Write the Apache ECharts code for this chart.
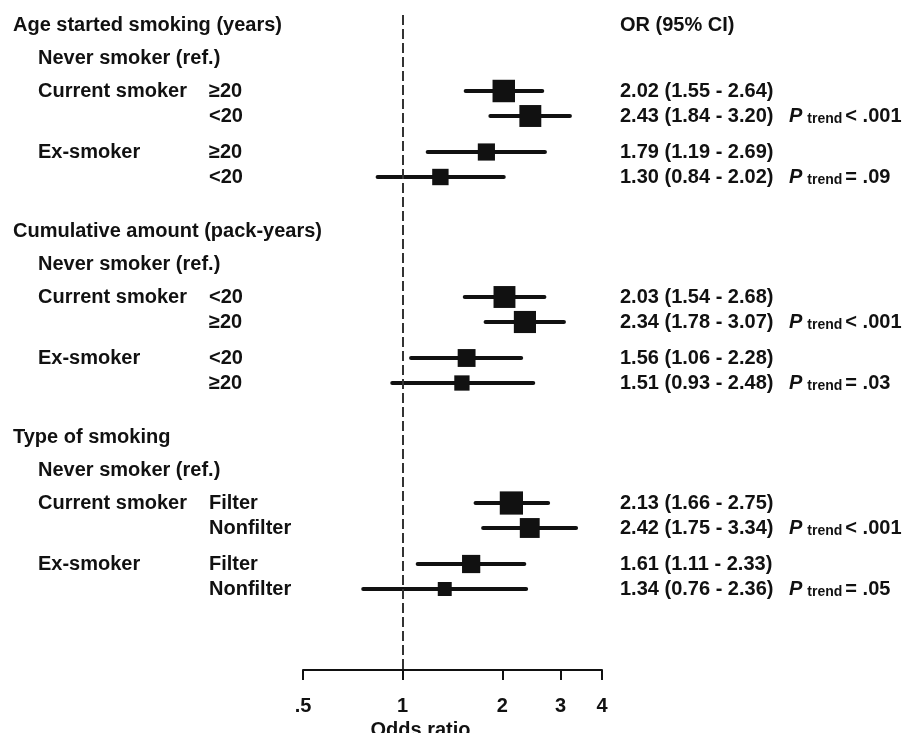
<!DOCTYPE html>
<html>
<head>
<meta charset="utf-8">
<script src="https://cdn.jsdelivr.net/npm/echarts@6/dist/echarts.min.js"></script>
<style>
html,body{margin:0;padding:0;background:#fff;}
#chart{width:907px;height:733px;}
</style>
</head>
<body>
<div id="chart"></div>
<script>
// ---- Data ----
const sectionTitles = ["Age started smoking (years)", "Cumulative amount (pack-years)", "Type of smoking"];
const refLabel = "Never smoker (ref.)";
const groupLabels = ["Current smoker", "Ex-smoker"];
const subLabels = [["≥20", "<20"], ["<20", "≥20"], ["Filter", "Nonfilter"]];
const orValues = [2.02, 2.43, 1.79, 1.30, 2.03, 2.34, 1.56, 1.51, 2.13, 2.42, 1.61, 1.34];
const ciLower  = [1.55, 1.84, 1.19, 0.84, 1.54, 1.78, 1.06, 0.93, 1.66, 1.75, 1.11, 0.76];
const ciUpper  = [2.64, 3.20, 2.69, 2.02, 2.68, 3.07, 2.28, 2.48, 2.75, 3.34, 2.33, 2.36];
const pTrendText = ["< .001", "= .09", "< .001", "= .03", "< .001", "= .05"];
const orHeader = "OR (95% CI)";
const tickValues = [0.5, 1, 2, 3, 4];
const tickLabels = [".5", "1", "2", "3", "4"];
const axisTitle = "Odds ratio";

// ---- Layout (row units) ----
const ROW_REF = 1.32, ROW_G0 = 2.64, ROW_STEP = 1.0, ROW_G1 = 5.08, SECTION_STEP = 8.24;
const COL_SECTION = 13, COL_GROUP = 38, COL_SUB = 209, COL_OR = 620, COL_P = 789;
const FONT = '"Liberation Sans", Arial, sans-serif';
const TXT = '#111';

const rowPos = [];          // row position for each estimate
const labels = [];          // text items
labels.push({pos: 0, x: COL_OR, text: orHeader});
sectionTitles.forEach((title, s) => {
  const base = s * SECTION_STEP;
  labels.push({pos: base, x: COL_SECTION, text: title});
  labels.push({pos: base + ROW_REF, x: COL_GROUP, text: refLabel});
  groupLabels.forEach((g, gi) => {
    const gStart = base + (gi === 0 ? ROW_G0 : ROW_G1);
    labels.push({pos: gStart, x: COL_GROUP, text: g});
    subLabels[s].forEach((sub, k) => {
      const idx = s * 4 + gi * 2 + k;
      const p = gStart + k * ROW_STEP;
      rowPos[idx] = p;
      labels.push({pos: p, x: COL_SUB, text: sub});
      const t = orValues[idx].toFixed(2) + ' (' + ciLower[idx].toFixed(2) + ' - ' + ciUpper[idx].toFixed(2) + ')';
      labels.push({pos: p, x: COL_OR, text: t});
      if (k === 1) {
        labels.push({pos: p, x: COL_P, rich: true, text: '{p|P}{t|trend}{v|' + pTrendText[s * 2 + gi] + '}'});
      }
    });
  });
});

// box size derived from CI width (precision)
function boxSize(i) {
  const w = Math.log(ciUpper[i] / ciLower[i]);
  return 15.1 / Math.pow(w, 0.63);
}

const boxData = orValues.map((v, i) => ({value: [v, rowPos[i]], symbolSize: boxSize(i)}));
const ciData = orValues.map((v, i) => [ciLower[i], ciUpper[i], rowPos[i]]);
const labelData = labels.map((l) => [1, l.pos]);

const chart = echarts.init(document.getElementById('chart'), null, {renderer: 'canvas'});
chart.setOption({
  backgroundColor: '#fff',
  animation: false,
  grid: {left: 303, right: 305, top: 15, bottom: 63, containLabel: false, outerBoundsMode: 'none'},
  xAxis: {
    type: 'log', logBase: 2, min: 0.5, max: 4,
    splitLine: {show: false},
    axisLine: {show: true, onZero: false, lineStyle: {color: TXT, width: 2}},
    axisTick: {show: true, length: 10, inside: false, lineStyle: {color: TXT, width: 2}, customValues: tickValues},
    axisLabel: {
      customValues: tickValues, margin: 26,
      color: TXT, fontSize: 20, fontWeight: 'bold', fontFamily: FONT,
      formatter: function (v) {
        let best = 0, d = Infinity;
        tickValues.forEach((t, i) => { const dd = Math.abs(t - v); if (dd < d) { d = dd; best = i; } });
        return tickLabels[best];
      }
    },
    name: axisTitle, nameLocation: 'middle', nameGap: 48,
    nameTextStyle: {color: TXT, fontSize: 20, fontWeight: 'bold', fontFamily: FONT, padding: [0, 64, 0, 0]}
  },
  yAxis: {type: 'value', inverse: true, min: -0.4, max: 25.8, show: false},
  series: [
    {
      type: 'custom', name: 'ci', z: 2, clip: false,
      data: ciData,
      encode: {x: [0, 1], y: 2},
      renderItem: function (params, api) {
        const a = api.coord([api.value(0), api.value(2)]);
        const b = api.coord([api.value(1), api.value(2)]);
        return {type: 'line', shape: {x1: a[0], y1: a[1], x2: b[0], y2: b[1]},
          style: {stroke: TXT, lineWidth: 4, lineCap: 'round'}};
      },
      markLine: {
        silent: true, symbol: 'none', label: {show: false},
        lineStyle: {color: '#333', width: 2, type: [10, 4]},
        data: [{xAxis: 1}]
      }
    },
    {
      type: 'scatter', name: 'or', z: 3,
      symbol: 'rect',
      itemStyle: {color: TXT, opacity: 1},
      emphasis: {disabled: true},
      data: boxData
    },
    {
      type: 'custom', name: 'labels', z: 4, clip: false, silent: true,
      data: labelData,
      encode: {x: 0, y: 1},
      renderItem: function (params, api) {
        const item = labels[params.dataIndex];
        const y = api.coord([1, api.value(1)])[1];
        const style = {
          text: item.text, fill: TXT, align: 'left', verticalAlign: 'middle',
          font: 'bold 20px ' + FONT
        };
        if (item.rich) {
          style.rich = {
            p: {fontStyle: 'italic', fontWeight: 'bold', fontSize: 20, fontFamily: FONT, fill: TXT, color: TXT, lineHeight: 20},
            t: {fontWeight: 'bold', fontSize: 14, fontFamily: FONT, fill: TXT, color: TXT, verticalAlign: 'bottom', padding: [0, 3, 0, 5], lineHeight: 20},
            v: {fontWeight: 'bold', fontSize: 20, fontFamily: FONT, fill: TXT, color: TXT, lineHeight: 20}
          };
        }
        return {type: 'text', x: item.x, y: y, style: style};
      }
    }
  ]
});
</script>
</body>
</html>
